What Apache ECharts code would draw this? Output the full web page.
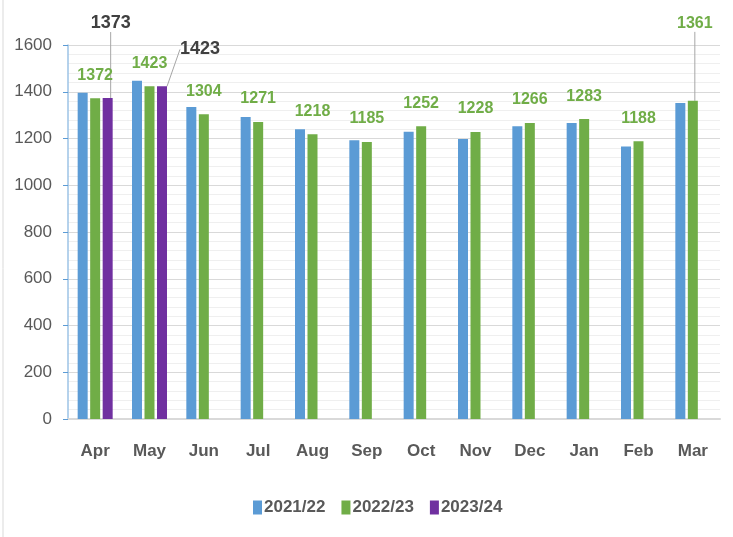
<!DOCTYPE html>
<html lang="en">
<head>
  <meta charset="UTF-8">
  <title>Monthly totals</title>
  <style>
    body { margin: 0; }
    #main { width: 733px; height: 537px; }
  </style>
</head>
<body>
<div id="main"></div>
<script src="https://cdn.jsdelivr.net/npm/echarts@6/dist/echarts.min.js"></script>
<script>
  // 月份
  let months = ['Apr', 'May', 'Jun', 'Jul', 'Aug', 'Sep', 'Oct', 'Nov', 'Dec', 'Jan', 'Feb', 'Mar'];
  // 各年度数据
  let fy2122 = [1396, 1447, 1335, 1292, 1240, 1192, 1229, 1198, 1252, 1266, 1166, 1352];
  let fy2223 = [1372, 1423, 1304, 1271, 1218, 1185, 1252, 1228, 1266, 1283, 1188, 1361];
  let fy2324 = [1373, 1423, null, null, null, null, null, null, null, null, null, null];
  let yTicks = { min: 0, max: 1600, interval: 200 };

  let font = "'Liberation Sans', sans-serif";
  let blue = '#5b9bd5', green = '#70ad47', purple = '#7030a0';

  // 标签偏移（被拉出的标签）
  let greenShift = { 11: { dx: 2, dy: -54 } };
  let purpleShift = { 0: { dx: 3, dy: -61 }, 1: { dx: 38, dy: -23 } };
  let guide = { show: true, lineStyle: { color: '#a6a6a6', width: 1 } };

  let chart = echarts.init(document.getElementById('main'));

  let option = {
    animation: false,
    backgroundColor: '#fff',
    textStyle: { fontFamily: font },
    graphic: [{
      type: 'line',
      shape: { x1: 3, y1: 0, x2: 3, y2: 537 },
      style: { stroke: '#d9d9d9', lineWidth: 1 }
    }],
    grid: { left: 68, right: 13, top: 45, bottom: 118 },
    legend: {
      bottom: 16,
      left: 248,
      itemWidth: 9,
      itemHeight: 14,
      itemGap: 16,
      icon: 'rect',
      textStyle: { fontSize: 17, fontWeight: 'bold', color: '#595959', fontFamily: font, padding: [0, 0, 0, -3] },
      data: ['2021/22', '2022/23', '2023/24']
    },
    xAxis: {
      type: 'category',
      data: months,
      axisLine: { lineStyle: { color: '#d9d9d9', width: 2 } },
      axisTick: { show: false },
      axisLabel: { margin: 24, fontSize: 17, fontWeight: 'bold', color: '#595959', fontFamily: font }
    },
    yAxis: {
      type: 'value',
      min: yTicks.min,
      max: yTicks.max,
      interval: yTicks.interval,
      axisLine: { show: true, lineStyle: { color: '#9dc3e6', width: 1.5 } },
      axisTick: { show: true, length: 5, lineStyle: { color: '#5b9bd5' } },
      axisLabel: {
        margin: 16, fontSize: 17, color: '#595959', fontFamily: font,
        formatter: function (v) { return String(v); }
      },
      splitLine: { lineStyle: { color: '#d9d9d9' } },
      minorTick: { show: false, splitNumber: 5 },
      minorSplitLine: { show: true, lineStyle: { color: '#efefef' } }
    },
    series: [
      {
        name: '2021/22',
        type: 'bar',
        data: fy2122,
        barWidth: 10,
        barGap: '25%',
        itemStyle: { color: blue }
      },
      {
        name: '2022/23',
        type: 'bar',
        barWidth: 10,
        barGap: '25%',
        itemStyle: { color: green },
        label: {
          show: true,
          position: 'top',
          distance: 15,
          fontSize: 16,
          fontWeight: 'bold',
          color: green,
          fontFamily: font
        },
        labelLayout: function (p) {
          return greenShift[p.dataIndex] || {};
        },
        data: fy2223.map(function (v, i) {
          return greenShift[i] ? { value: v, labelLine: guide } : v;
        })
      },
      {
        name: '2023/24',
        type: 'bar',
        data: fy2324,
        barWidth: 10,
        barGap: '25%',
        itemStyle: { color: purple },
        label: {
          show: true,
          position: 'top',
          distance: 5,
          fontSize: 18,
          fontWeight: 'bold',
          color: '#404040',
          fontFamily: font
        },
        labelLayout: function (p) {
          return purpleShift[p.dataIndex] || {};
        },
        labelLine: guide
      }
    ]
  };

  chart.setOption(option);
</script>
</body>
</html>
